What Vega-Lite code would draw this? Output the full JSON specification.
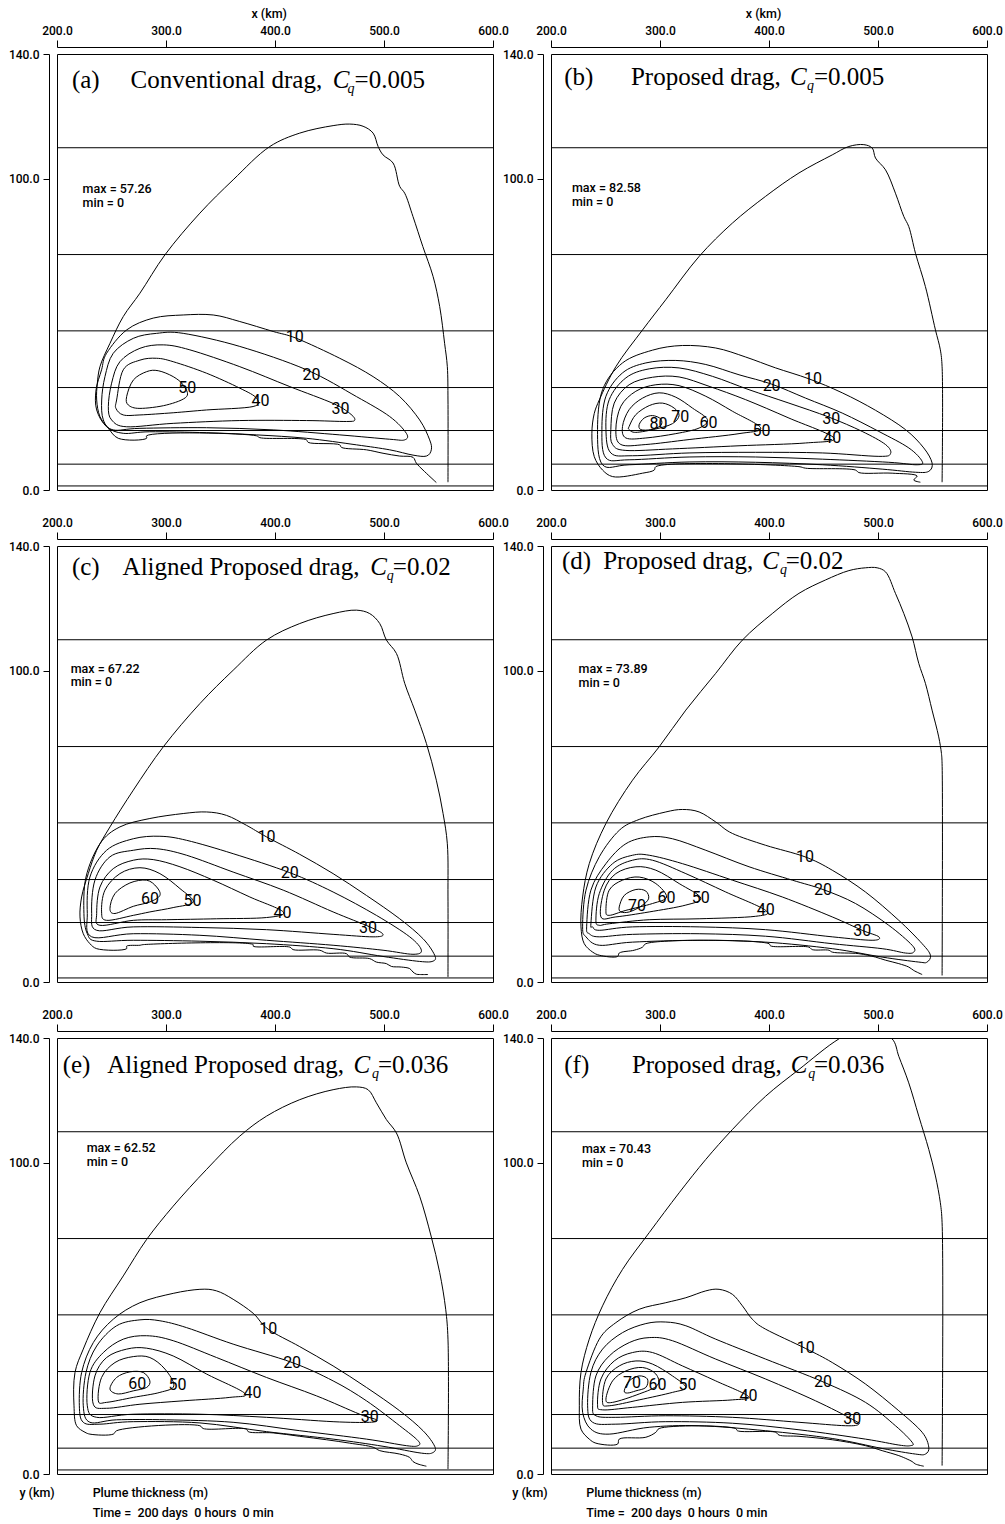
{
"$schema":"https://vega.github.io/schema/vega-lite/v6.json",
"padding":{"left":7,"top":7,"right":5,"bottom":2},
"background":"white",
"data":{"values":[
{"p":"a","k":"h","y":109.9},{"p":"a","k":"h","y":75.6},{"p":"a","k":"h","y":51.1},{"p":"a","k":"h","y":32.9},{"p":"a","k":"h","y":19.1},{"p":"a","k":"h","y":8.3},{"p":"a","k":"h","y":1.3},
{"p":"b","k":"h","y":109.9},{"p":"b","k":"h","y":75.6},{"p":"b","k":"h","y":51.1},{"p":"b","k":"h","y":32.9},{"p":"b","k":"h","y":19.1},{"p":"b","k":"h","y":8.3},{"p":"b","k":"h","y":1.3},
{"p":"c","k":"h","y":109.9},{"p":"c","k":"h","y":75.6},{"p":"c","k":"h","y":51.1},{"p":"c","k":"h","y":32.9},{"p":"c","k":"h","y":19.1},{"p":"c","k":"h","y":8.3},{"p":"c","k":"h","y":1.3},
{"p":"d","k":"h","y":109.9},{"p":"d","k":"h","y":75.6},{"p":"d","k":"h","y":51.1},{"p":"d","k":"h","y":32.9},{"p":"d","k":"h","y":19.1},{"p":"d","k":"h","y":8.3},{"p":"d","k":"h","y":1.3},
{"p":"e","k":"h","y":109.9},{"p":"e","k":"h","y":75.6},{"p":"e","k":"h","y":51.1},{"p":"e","k":"h","y":32.9},{"p":"e","k":"h","y":19.1},{"p":"e","k":"h","y":8.3},{"p":"e","k":"h","y":1.3},
{"p":"f","k":"h","y":109.9},{"p":"f","k":"h","y":75.6},{"p":"f","k":"h","y":51.1},{"p":"f","k":"h","y":32.9},{"p":"f","k":"h","y":19.1},{"p":"f","k":"h","y":8.3},{"p":"f","k":"h","y":1.3},

{"p":"a","k":"t","t":"(a)","x":213.7,"y":129.0},{"p":"a","k":"t","t":"Conventional drag,","x":267.5,"y":129.0},{"p":"a","k":"ti","t":"C","x":452.9,"y":129.0},{"p":"a","k":"tq","t":"q","x":466.6,"y":129.0},{"p":"a","k":"t","t":"=0.005","x":473.0,"y":129.0},
{"p":"b","k":"t","t":"(b)","x":212.2,"y":129.9},{"p":"b","k":"t","t":"Proposed drag,","x":273.3,"y":129.9},{"p":"b","k":"ti","t":"C","x":419.2,"y":129.9},{"p":"b","k":"tq","t":"q","x":434.8,"y":129.9},{"p":"b","k":"t","t":"=0.005","x":441.2,"y":129.9},
{"p":"c","k":"t","t":"(c)","x":213.7,"y":130.7},{"p":"c","k":"t","t":"Aligned Proposed drag,","x":260.2,"y":130.7},{"p":"c","k":"ti","t":"C","x":487.4,"y":130.7},{"p":"c","k":"tq","t":"q","x":502.6,"y":130.7},{"p":"c","k":"t","t":"=0.02","x":508.1,"y":130.7},
{"p":"d","k":"t","t":"(d)","x":210.1,"y":132.5},{"p":"d","k":"t","t":"Proposed drag,","x":247.9,"y":132.5},{"p":"d","k":"ti","t":"C","x":393.9,"y":132.5},{"p":"d","k":"tq","t":"q","x":410.1,"y":132.5},{"p":"d","k":"t","t":"=0.02","x":415.3,"y":132.5},
{"p":"e","k":"t","t":"(e)","x":205.2,"y":128.8},{"p":"e","k":"t","t":"Aligned Proposed drag,","x":246.1,"y":128.8},{"p":"e","k":"ti","t":"C","x":472.1,"y":128.8},{"p":"e","k":"tq","t":"q","x":488.9,"y":128.8},{"p":"e","k":"t","t":"=0.036","x":494.4,"y":128.8},
{"p":"f","k":"t","t":"(f)","x":212.2,"y":128.8},{"p":"f","k":"t","t":"Proposed drag,","x":274.2,"y":128.8},{"p":"f","k":"ti","t":"C","x":419.9,"y":128.8},{"p":"f","k":"tq","t":"q","x":436.0,"y":128.8},{"p":"f","k":"t","t":"=0.036","x":441.2,"y":128.8},

{"p":"a","k":"s","t":"max = 57.26","x":223.5,"y":95.4},{"p":"a","k":"s","t":"min = 0","x":223.5,"y":90.9},
{"p":"b","k":"s","t":"max = 82.58","x":219.2,"y":95.6},{"p":"b","k":"s","t":"min = 0","x":219.2,"y":91.1},
{"p":"c","k":"s","t":"max = 67.22","x":212.5,"y":99.1},{"p":"c","k":"s","t":"min = 0","x":212.5,"y":95.0},
{"p":"d","k":"s","t":"max = 73.89","x":225.3,"y":99.1},{"p":"d","k":"s","t":"min = 0","x":225.3,"y":94.6},
{"p":"e","k":"s","t":"max = 62.52","x":227.2,"y":103.5},{"p":"e","k":"s","t":"min = 0","x":227.2,"y":98.8},
{"p":"f","k":"s","t":"max = 70.43","x":228.4,"y":103.1},{"p":"f","k":"s","t":"min = 0","x":228.4,"y":98.7},

{"p":"a","k":"x","t":"x (km)","x":378.4,"y":152.7},{"p":"b","k":"x","t":"x (km)","x":378.7,"y":152.7},
{"p":"e","k":"x","t":"y (km)","x":165.5,"y":-6.1},{"p":"e","k":"x","t":"Plume thickness (m)","x":232.7,"y":-6.1},{"p":"e","k":"x","t":"Time =\u00a0\u00a0200 days\u00a0\u00a00 hours\u00a0\u00a00 min","x":232.7,"y":-12.5},
{"p":"f","k":"x","t":"y (km)","x":164.5,"y":-6.1},{"p":"f","k":"x","t":"Plume thickness (m)","x":232.3,"y":-6.1},{"p":"f","k":"x","t":"Time =\u00a0\u00a0200 days\u00a0\u00a00 hours\u00a0\u00a00 min","x":232.3,"y":-12.5},

{"p":"a","k":"l","t":"10","x":418.2,"y":49.1},{"p":"a","k":"l","t":"20","x":433.4,"y":37.0},{"p":"a","k":"l","t":"50","x":319.5,"y":32.7},{"p":"a","k":"l","t":"40","x":386.7,"y":28.7},{"p":"a","k":"l","t":"30","x":460.0,"y":25.9},
{"p":"b","k":"l","t":"10","x":440.3,"y":35.6},{"p":"b","k":"l","t":"20","x":402.4,"y":33.4},{"p":"b","k":"l","t":"30","x":457.1,"y":22.7},{"p":"b","k":"l","t":"40","x":458.0,"y":16.6},{"p":"b","k":"l","t":"50","x":393.0,"y":19.1},{"p":"b","k":"l","t":"60","x":344.4,"y":21.6},{"p":"b","k":"l","t":"70","x":318.5,"y":23.4},{"p":"b","k":"l","t":"80","x":298.6,"y":21.2},
{"p":"c","k":"l","t":"10","x":392.2,"y":46.4},{"p":"c","k":"l","t":"20","x":413.6,"y":35.1},{"p":"c","k":"l","t":"60","x":285.2,"y":26.5},{"p":"c","k":"l","t":"50","x":324.4,"y":25.9},{"p":"c","k":"l","t":"40","x":406.9,"y":22.2},{"p":"c","k":"l","t":"30","x":485.4,"y":17.5},
{"p":"d","k":"l","t":"10","x":433.0,"y":40.2},{"p":"d","k":"l","t":"20","x":449.5,"y":29.7},{"p":"d","k":"l","t":"70","x":278.8,"y":24.3},{"p":"d","k":"l","t":"60","x":306.0,"y":27.1},{"p":"d","k":"l","t":"50","x":337.4,"y":27.0},{"p":"d","k":"l","t":"40","x":396.9,"y":23.0},{"p":"d","k":"l","t":"30","x":485.5,"y":16.4},
{"p":"e","k":"l","t":"10","x":393.7,"y":46.5},{"p":"e","k":"l","t":"20","x":415.7,"y":35.8},{"p":"e","k":"l","t":"60","x":273.6,"y":28.9},{"p":"e","k":"l","t":"50","x":310.6,"y":28.5},{"p":"e","k":"l","t":"40","x":379.4,"y":25.9},{"p":"e","k":"l","t":"30","x":486.9,"y":18.2},
{"p":"f","k":"l","t":"10","x":433.6,"y":40.3},{"p":"f","k":"l","t":"20","x":449.5,"y":29.6},{"p":"f","k":"l","t":"70","x":274.2,"y":29.2},{"p":"f","k":"l","t":"60","x":297.7,"y":28.5},{"p":"f","k":"l","t":"50","x":325.2,"y":28.6},{"p":"f","k":"l","t":"40","x":381.1,"y":24.9},{"p":"f","k":"l","t":"30","x":476.3,"y":17.6},

{"p":"a","c":"0","x":548.0,"y":2.4},{"p":"a","c":"0","x":535.8,"y":6.4},{"p":"a","c":"0","x":529.7,"y":8.6},{"p":"a","c":"0","x":526.6,"y":10.5},{"p":"a","c":"0","x":514.4,"y":10.9},{"p":"a","c":"0","x":499.1,"y":11.8},{"p":"a","c":"0","x":483.9,"y":12.9},{"p":"a","c":"0","x":460.9,"y":13.7},{"p":"a","c":"0","x":459.4,"y":14.5},{"p":"a","c":"0","x":430.4,"y":15.3},{"p":"a","c":"0","x":428.9,"y":16.1},{"p":"a","c":"0","x":386.1,"y":16.8},{"p":"a","c":"0","x":383.0,"y":17.4},{"p":"a","c":"0","x":282.2,"y":17.4},{"p":"a","c":"0","x":282.2,"y":16.6},{"p":"a","c":"0","x":256.2,"y":16.6},{"p":"a","c":"0","x":247.1,"y":19.8},{"p":"a","c":"0","x":239.4,"y":23.6},{"p":"a","c":"0","x":236.4,"y":28.9},{"p":"a","c":"0","x":237.0,"y":34.3},{"p":"a","c":"0","x":239.4,"y":39.6},{"p":"a","c":"0","x":248.6,"y":47.1},{"p":"a","c":"0","x":260.8,"y":55.7},{"p":"a","c":"0","x":276.1,"y":63.2},{"p":"a","c":"0","x":299.0,"y":75.5},{"p":"a","c":"0","x":331.1,"y":88.9},{"p":"a","c":"0","x":361.6,"y":99.6},{"p":"a","c":"0","x":395.3,"y":110.3},{"p":"a","c":"0","x":422.7,"y":114.6},{"p":"a","c":"0","x":453.3,"y":117.0},{"p":"a","c":"0","x":468.6,"y":117.5},{"p":"a","c":"0","x":480.8,"y":116.8},{"p":"a","c":"0","x":490.0,"y":114.6},{"p":"a","c":"0","x":494.6,"y":110.3},{"p":"a","c":"0","x":499.1,"y":107.6},{"p":"a","c":"0","x":508.3,"y":105.0},{"p":"a","c":"0","x":514.4,"y":97.5},{"p":"a","c":"0","x":519.0,"y":95.3},{"p":"a","c":"0","x":526.6,"y":87.8},{"p":"a","c":"0","x":535.6,"y":78.2},{"p":"a","c":"0","x":545.0,"y":68.6},{"p":"a","c":"0","x":551.1,"y":58.9},{"p":"a","c":"0","x":555.6,"y":47.1},{"p":"a","c":"0","x":558.1,"y":39.6},{"p":"a","c":"0","x":558.7,"y":28.9},{"p":"a","c":"0","x":558.7,"y":2.5},
{"p":"a","c":"10","x":245.5,"y":43.9},{"p":"a","c":"10","x":263.9,"y":51.4},{"p":"a","c":"10","x":288.3,"y":55.2},{"p":"a","c":"10","x":315.8,"y":56.2},{"p":"a","c":"10","x":343.3,"y":56.2},{"p":"a","c":"10","x":367.7,"y":54.1},{"p":"a","c":"10","x":398.3,"y":50.9},{"p":"a","c":"10","x":419.7,"y":48.7},{"p":"a","c":"10","x":459.4,"y":42.3},{"p":"a","c":"10","x":490.0,"y":36.4},{"p":"a","c":"10","x":514.4,"y":30.0},{"p":"a","c":"10","x":532.7,"y":22.5},{"p":"a","c":"10","x":541.9,"y":16.1},{"p":"a","c":"10","x":543.4,"y":12.9},{"p":"a","c":"10","x":538.9,"y":10.9},{"p":"a","c":"10","x":526.6,"y":11.2},{"p":"a","c":"10","x":505.2,"y":12.9},{"p":"a","c":"10","x":474.7,"y":14.5},{"p":"a","c":"10","x":428.9,"y":16.6},{"p":"a","c":"10","x":383.0,"y":17.7},{"p":"a","c":"10","x":337.2,"y":18.4},{"p":"a","c":"10","x":285.2,"y":18.7},{"p":"a","c":"10","x":260.8,"y":18.2},{"p":"a","c":"10","x":245.5,"y":20.3},{"p":"a","c":"10","x":236.4,"y":25.7},{"p":"a","c":"10","x":235.8,"y":32.1},{"p":"a","c":"10","x":240.9,"y":38.6},
{"p":"a","c":"20","x":251.6,"y":43.9},{"p":"a","c":"20","x":270.0,"y":48.7},{"p":"a","c":"20","x":291.4,"y":50.3},{"p":"a","c":"20","x":315.8,"y":50.3},{"p":"a","c":"20","x":367.7,"y":46.1},{"p":"a","c":"20","x":428.9,"y":38.6},{"p":"a","c":"20","x":474.7,"y":30.0},{"p":"a","c":"20","x":505.2,"y":23.6},{"p":"a","c":"20","x":520.5,"y":18.2},{"p":"a","c":"20","x":519.0,"y":16.1},{"p":"a","c":"20","x":505.2,"y":16.3},{"p":"a","c":"20","x":459.4,"y":17.7},{"p":"a","c":"20","x":398.3,"y":19.3},{"p":"a","c":"20","x":337.2,"y":20.0},{"p":"a","c":"20","x":276.1,"y":19.8},{"p":"a","c":"20","x":251.6,"y":19.3},{"p":"a","c":"20","x":242.5,"y":22.5},{"p":"a","c":"20","x":241.0,"y":28.9},{"p":"a","c":"20","x":244.0,"y":36.4},
{"p":"a","c":"30","x":257.7,"y":41.2},{"p":"a","c":"30","x":276.1,"y":45.5},{"p":"a","c":"30","x":297.5,"y":46.6},{"p":"a","c":"30","x":321.9,"y":45.0},{"p":"a","c":"30","x":367.7,"y":39.6},{"p":"a","c":"30","x":413.6,"y":33.2},{"p":"a","c":"30","x":453.3,"y":27.8},{"p":"a","c":"30","x":468.6,"y":24.6},{"p":"a","c":"30","x":473.2,"y":22.5},{"p":"a","c":"30","x":465.5,"y":22.0},{"p":"a","c":"30","x":428.9,"y":22.3},{"p":"a","c":"30","x":367.7,"y":22.3},{"p":"a","c":"30","x":306.6,"y":21.4},{"p":"a","c":"30","x":263.9,"y":20.3},{"p":"a","c":"30","x":250.1,"y":22.5},{"p":"a","c":"30","x":247.1,"y":26.8},{"p":"a","c":"30","x":250.1,"y":34.3},
{"p":"a","c":"40","x":254.7,"y":28.9},{"p":"a","c":"40","x":260.8,"y":38.6},{"p":"a","c":"40","x":276.1,"y":41.7},{"p":"a","c":"40","x":291.4,"y":42.3},{"p":"a","c":"40","x":306.6,"y":41.2},{"p":"a","c":"40","x":337.2,"y":37.5},{"p":"a","c":"40","x":367.7,"y":32.7},{"p":"a","c":"40","x":383.0,"y":29.5},{"p":"a","c":"40","x":379.9,"y":26.8},{"p":"a","c":"40","x":337.2,"y":25.7},{"p":"a","c":"40","x":306.6,"y":24.8},{"p":"a","c":"40","x":276.1,"y":24.1},{"p":"a","c":"40","x":260.8,"y":24.1},{"p":"a","c":"40","x":254.1,"y":26.2},
{"p":"a","c":"50","x":263.9,"y":30.0},{"p":"a","c":"50","x":270.0,"y":35.3},{"p":"a","c":"50","x":282.2,"y":38.0},{"p":"a","c":"50","x":292.9,"y":38.3},{"p":"a","c":"50","x":306.6,"y":36.4},{"p":"a","c":"50","x":315.8,"y":33.7},{"p":"a","c":"50","x":318.9,"y":30.0},{"p":"a","c":"50","x":300.5,"y":27.3},{"p":"a","c":"50","x":276.1,"y":26.2},{"p":"a","c":"50","x":265.4,"y":27.3},

{"p":"b","c":"0","x":538.9,"y":2.5},{"p":"b","c":"0","x":532.8,"y":3.2},{"p":"b","c":"0","x":535.9,"y":4.5},{"p":"b","c":"0","x":513.0,"y":5.4},{"p":"b","c":"0","x":482.4,"y":5.6},{"p":"b","c":"0","x":479.4,"y":6.4},{"p":"b","c":"0","x":433.6,"y":7.0},{"p":"b","c":"0","x":427.5,"y":7.5},{"p":"b","c":"0","x":296.2,"y":7.5},{"p":"b","c":"0","x":294.7,"y":6.4},{"p":"b","c":"0","x":284.0,"y":5.4},{"p":"b","c":"0","x":256.5,"y":4.3},{"p":"b","c":"0","x":247.3,"y":6.4},{"p":"b","c":"0","x":239.7,"y":10.7},{"p":"b","c":"0","x":237.5,"y":18.2},{"p":"b","c":"0","x":239.7,"y":24.6},{"p":"b","c":"0","x":244.3,"y":28.9},{"p":"b","c":"0","x":259.5,"y":39.6},{"p":"b","c":"0","x":284.0,"y":51.4},{"p":"b","c":"0","x":305.3,"y":61.1},{"p":"b","c":"0","x":335.9,"y":75.0},{"p":"b","c":"0","x":366.4,"y":85.7},{"p":"b","c":"0","x":396.9,"y":94.3},{"p":"b","c":"0","x":427.5,"y":101.8},{"p":"b","c":"0","x":458.0,"y":107.6},{"p":"b","c":"0","x":473.3,"y":110.3},{"p":"b","c":"0","x":487.0,"y":110.9},{"p":"b","c":"0","x":494.7,"y":109.8},{"p":"b","c":"0","x":497.7,"y":106.6},{"p":"b","c":"0","x":506.9,"y":102.8},{"p":"b","c":"0","x":516.0,"y":95.3},{"p":"b","c":"0","x":523.7,"y":87.8},{"p":"b","c":"0","x":528.2,"y":84.6},{"p":"b","c":"0","x":534.4,"y":76.0},{"p":"b","c":"0","x":543.5,"y":65.3},{"p":"b","c":"0","x":552.7,"y":51.4},{"p":"b","c":"0","x":557.2,"y":45.0},{"p":"b","c":"0","x":558.8,"y":39.6},{"p":"b","c":"0","x":558.8,"y":2.5},
{"p":"b","c":"10","x":242.7,"y":19.4},{"p":"b","c":"10","x":247.3,"y":32.2},{"p":"b","c":"10","x":265.6,"y":40.8},{"p":"b","c":"10","x":293.1,"y":44.9},{"p":"b","c":"10","x":320.6,"y":46.4},{"p":"b","c":"10","x":351.1,"y":45.6},{"p":"b","c":"10","x":378.6,"y":42.7},{"p":"b","c":"10","x":406.1,"y":39.2},{"p":"b","c":"10","x":436.6,"y":35.7},{"p":"b","c":"10","x":467.2,"y":31.2},{"p":"b","c":"10","x":497.7,"y":25.6},{"p":"b","c":"10","x":525.2,"y":19.4},{"p":"b","c":"10","x":542.0,"y":13.5},{"p":"b","c":"10","x":549.6,"y":8.7},{"p":"b","c":"10","x":546.6,"y":6.0},{"p":"b","c":"10","x":534.4,"y":5.7},{"p":"b","c":"10","x":503.8,"y":6.7},{"p":"b","c":"10","x":448.9,"y":8.1},{"p":"b","c":"10","x":387.8,"y":8.9},{"p":"b","c":"10","x":326.7,"y":9.0},{"p":"b","c":"10","x":271.7,"y":8.1},{"p":"b","c":"10","x":247.3,"y":8.1},
{"p":"b","c":"20","x":246.7,"y":19.4},{"p":"b","c":"20","x":250.4,"y":30.1},{"p":"b","c":"20","x":265.6,"y":37.6},{"p":"b","c":"20","x":287.0,"y":40.8},{"p":"b","c":"20","x":314.5,"y":41.6},{"p":"b","c":"20","x":342.0,"y":40.3},{"p":"b","c":"20","x":372.5,"y":37.0},{"p":"b","c":"20","x":402.4,"y":34.0},{"p":"b","c":"20","x":433.6,"y":29.5},{"p":"b","c":"20","x":467.2,"y":24.7},{"p":"b","c":"20","x":500.8,"y":18.8},{"p":"b","c":"20","x":528.3,"y":13.5},{"p":"b","c":"20","x":540.5,"y":9.2},{"p":"b","c":"20","x":535.9,"y":8.1},{"p":"b","c":"20","x":509.9,"y":8.9},{"p":"b","c":"20","x":448.9,"y":9.9},{"p":"b","c":"20","x":387.8,"y":10.6},{"p":"b","c":"20","x":326.7,"y":10.6},{"p":"b","c":"20","x":271.7,"y":9.7},{"p":"b","c":"20","x":250.4,"y":10.3},
{"p":"b","c":"30","x":250.4,"y":19.4},{"p":"b","c":"30","x":253.4,"y":29.0},{"p":"b","c":"30","x":268.7,"y":36.0},{"p":"b","c":"30","x":290.1,"y":38.9},{"p":"b","c":"30","x":317.5,"y":39.2},{"p":"b","c":"30","x":348.1,"y":36.5},{"p":"b","c":"30","x":381.7,"y":32.2},{"p":"b","c":"30","x":418.3,"y":27.9},{"p":"b","c":"30","x":455.0,"y":23.4},{"p":"b","c":"30","x":485.5,"y":18.8},{"p":"b","c":"30","x":506.9,"y":14.6},{"p":"b","c":"30","x":511.5,"y":11.7},{"p":"b","c":"30","x":500.8,"y":10.8},{"p":"b","c":"30","x":448.9,"y":11.9},{"p":"b","c":"30","x":387.8,"y":12.1},{"p":"b","c":"30","x":326.7,"y":11.9},{"p":"b","c":"30","x":274.8,"y":11.0},{"p":"b","c":"30","x":254.9,"y":11.9},
{"p":"b","c":"40","x":254.9,"y":19.4},{"p":"b","c":"40","x":258.0,"y":27.9},{"p":"b","c":"40","x":271.7,"y":33.8},{"p":"b","c":"40","x":293.1,"y":36.2},{"p":"b","c":"40","x":317.5,"y":36.3},{"p":"b","c":"40","x":345.0,"y":33.3},{"p":"b","c":"40","x":378.6,"y":29.0},{"p":"b","c":"40","x":418.3,"y":23.1},{"p":"b","c":"40","x":459.6,"y":16.7},{"p":"b","c":"40","x":433.6,"y":15.1},{"p":"b","c":"40","x":372.5,"y":14.2},{"p":"b","c":"40","x":311.4,"y":13.2},{"p":"b","c":"40","x":268.7,"y":12.7},{"p":"b","c":"40","x":256.5,"y":14.6},
{"p":"b","c":"50","x":259.5,"y":19.4},{"p":"b","c":"50","x":264.1,"y":26.9},{"p":"b","c":"50","x":277.8,"y":31.7},{"p":"b","c":"50","x":296.2,"y":33.8},{"p":"b","c":"50","x":317.5,"y":33.5},{"p":"b","c":"50","x":342.0,"y":30.1},{"p":"b","c":"50","x":366.4,"y":25.3},{"p":"b","c":"50","x":392.4,"y":19.9},{"p":"b","c":"50","x":372.5,"y":18.1},{"p":"b","c":"50","x":326.7,"y":16.2},{"p":"b","c":"50","x":287.0,"y":14.6},{"p":"b","c":"50","x":264.1,"y":14.6},
{"p":"b","c":"60","x":265.6,"y":20.4},{"p":"b","c":"60","x":271.7,"y":25.8},{"p":"b","c":"60","x":284.0,"y":29.5},{"p":"b","c":"60","x":299.2,"y":31.2},{"p":"b","c":"60","x":314.5,"y":29.8},{"p":"b","c":"60","x":329.8,"y":26.3},{"p":"b","c":"60","x":343.5,"y":22.6},{"p":"b","c":"60","x":335.9,"y":19.9},{"p":"b","c":"60","x":314.5,"y":18.1},{"p":"b","c":"60","x":287.0,"y":16.7},{"p":"b","c":"60","x":268.7,"y":16.7},
{"p":"b","c":"70","x":271.7,"y":20.4},{"p":"b","c":"70","x":277.8,"y":24.2},{"p":"b","c":"70","x":290.1,"y":27.1},{"p":"b","c":"70","x":302.3,"y":27.9},{"p":"b","c":"70","x":313.0,"y":26.3},{"p":"b","c":"70","x":317.5,"y":23.9},{"p":"b","c":"70","x":311.4,"y":21.3},{"p":"b","c":"70","x":296.2,"y":19.6},{"p":"b","c":"70","x":277.8,"y":18.5},{"p":"b","c":"70","x":271.7,"y":19.4},
{"p":"b","c":"80","x":280.9,"y":21.0},{"p":"b","c":"80","x":285.5,"y":23.1},{"p":"b","c":"80","x":293.1,"y":23.9},{"p":"b","c":"80","x":300.7,"y":22.8},{"p":"b","c":"80","x":300.7,"y":20.7},{"p":"b","c":"80","x":291.6,"y":19.4},{"p":"b","c":"80","x":282.4,"y":19.4},

{"p":"c","c":"0","x":540.4,"y":2.4},{"p":"c","c":"0","x":532.7,"y":2.4},{"p":"c","c":"0","x":529.7,"y":2.5},{"p":"c","c":"0","x":526.6,"y":3.2},{"p":"c","c":"0","x":523.6,"y":4.3},{"p":"c","c":"0","x":516.0,"y":4.8},{"p":"c","c":"0","x":506.8,"y":5.0},{"p":"c","c":"0","x":502.2,"y":5.9},{"p":"c","c":"0","x":493.0,"y":6.4},{"p":"c","c":"0","x":486.9,"y":7.5},{"p":"c","c":"0","x":468.6,"y":8.0},{"p":"c","c":"0","x":465.5,"y":9.1},{"p":"c","c":"0","x":447.2,"y":9.3},{"p":"c","c":"0","x":441.1,"y":10.2},{"p":"c","c":"0","x":416.6,"y":10.4},{"p":"c","c":"0","x":413.6,"y":11.2},{"p":"c","c":"0","x":380.0,"y":11.5},{"p":"c","c":"0","x":380.0,"y":12.0},{"p":"c","c":"0","x":279.1,"y":12.0},{"p":"c","c":"0","x":276.1,"y":11.8},{"p":"c","c":"0","x":263.9,"y":11.5},{"p":"c","c":"0","x":263.9,"y":10.7},{"p":"c","c":"0","x":236.4,"y":10.7},{"p":"c","c":"0","x":230.2,"y":12.3},{"p":"c","c":"0","x":224.1,"y":15.5},{"p":"c","c":"0","x":221.1,"y":20.9},{"p":"c","c":"0","x":222.6,"y":27.3},{"p":"c","c":"0","x":228.7,"y":34.8},{"p":"c","c":"0","x":236.4,"y":42.3},{"p":"c","c":"0","x":248.6,"y":49.8},{"p":"c","c":"0","x":270.0,"y":61.6},{"p":"c","c":"0","x":297.5,"y":75.5},{"p":"c","c":"0","x":331.1,"y":89.4},{"p":"c","c":"0","x":361.6,"y":100.1},{"p":"c","c":"0","x":392.2,"y":109.8},{"p":"c","c":"0","x":422.7,"y":115.1},{"p":"c","c":"0","x":453.3,"y":118.3},{"p":"c","c":"0","x":474.7,"y":119.4},{"p":"c","c":"0","x":486.9,"y":118.3},{"p":"c","c":"0","x":496.1,"y":115.1},{"p":"c","c":"0","x":502.2,"y":109.8},{"p":"c","c":"0","x":511.4,"y":105.5},{"p":"c","c":"0","x":519.0,"y":95.9},{"p":"c","c":"0","x":528.2,"y":87.3},{"p":"c","c":"0","x":538.9,"y":76.6},{"p":"c","c":"0","x":548.0,"y":64.8},{"p":"c","c":"0","x":554.2,"y":54.1},{"p":"c","c":"0","x":558.1,"y":44.4},{"p":"c","c":"0","x":558.7,"y":27.3},{"p":"c","c":"0","x":558.7,"y":1.6},
{"p":"c","c":"10","x":224.7,"y":22.0},{"p":"c","c":"10","x":226.6,"y":33.7},{"p":"c","c":"10","x":239.4,"y":44.4},{"p":"c","c":"10","x":257.7,"y":49.8},{"p":"c","c":"10","x":285.2,"y":52.5},{"p":"c","c":"10","x":315.8,"y":54.1},{"p":"c","c":"10","x":337.2,"y":54.6},{"p":"c","c":"10","x":355.5,"y":53.5},{"p":"c","c":"10","x":373.9,"y":50.3},{"p":"c","c":"10","x":392.2,"y":46.6},{"p":"c","c":"10","x":422.7,"y":41.0},{"p":"c","c":"10","x":453.3,"y":34.8},{"p":"c","c":"10","x":483.9,"y":27.8},{"p":"c","c":"10","x":514.4,"y":20.3},{"p":"c","c":"10","x":535.8,"y":13.9},{"p":"c","c":"10","x":546.5,"y":8.6},{"p":"c","c":"10","x":545.0,"y":6.7},{"p":"c","c":"10","x":532.7,"y":6.6},{"p":"c","c":"10","x":499.1,"y":8.2},{"p":"c","c":"10","x":453.3,"y":10.7},{"p":"c","c":"10","x":392.2,"y":12.3},{"p":"c","c":"10","x":331.1,"y":13.1},{"p":"c","c":"10","x":270.0,"y":13.4},{"p":"c","c":"10","x":236.4,"y":13.1},{"p":"c","c":"10","x":227.8,"y":15.5},
{"p":"c","c":"20","x":227.8,"y":22.0},{"p":"c","c":"20","x":230.2,"y":33.7},{"p":"c","c":"20","x":245.5,"y":42.3},{"p":"c","c":"20","x":270.0,"y":46.0},{"p":"c","c":"20","x":294.4,"y":46.8},{"p":"c","c":"20","x":318.9,"y":45.5},{"p":"c","c":"20","x":361.6,"y":41.2},{"p":"c","c":"20","x":413.6,"y":35.1},{"p":"c","c":"20","x":453.3,"y":28.9},{"p":"c","c":"20","x":493.0,"y":21.4},{"p":"c","c":"20","x":523.6,"y":14.5},{"p":"c","c":"20","x":534.3,"y":10.2},{"p":"c","c":"20","x":526.6,"y":8.9},{"p":"c","c":"20","x":499.1,"y":10.2},{"p":"c","c":"20","x":453.3,"y":11.8},{"p":"c","c":"20","x":392.2,"y":13.4},{"p":"c","c":"20","x":331.1,"y":15.0},{"p":"c","c":"20","x":270.0,"y":15.5},{"p":"c","c":"20","x":231.8,"y":14.5},
{"p":"c","c":"30","x":231.8,"y":22.0},{"p":"c","c":"30","x":234.8,"y":32.7},{"p":"c","c":"30","x":248.6,"y":40.2},{"p":"c","c":"30","x":270.0,"y":42.3},{"p":"c","c":"30","x":291.4,"y":42.8},{"p":"c","c":"30","x":318.9,"y":40.7},{"p":"c","c":"30","x":361.6,"y":35.3},{"p":"c","c":"30","x":407.5,"y":29.5},{"p":"c","c":"30","x":453.3,"y":22.5},{"p":"c","c":"30","x":486.9,"y":17.7},{"p":"c","c":"30","x":499.1,"y":15.3},{"p":"c","c":"30","x":490.0,"y":14.5},{"p":"c","c":"30","x":453.3,"y":15.3},{"p":"c","c":"30","x":392.2,"y":16.8},{"p":"c","c":"30","x":331.1,"y":17.5},{"p":"c","c":"30","x":270.0,"y":17.7},{"p":"c","c":"30","x":236.4,"y":16.6},
{"p":"c","c":"40","x":236.4,"y":22.0},{"p":"c","c":"40","x":239.4,"y":30.5},{"p":"c","c":"40","x":251.6,"y":36.4},{"p":"c","c":"40","x":270.0,"y":39.1},{"p":"c","c":"40","x":288.3,"y":39.3},{"p":"c","c":"40","x":312.8,"y":37.0},{"p":"c","c":"40","x":343.3,"y":32.7},{"p":"c","c":"40","x":376.9,"y":27.3},{"p":"c","c":"40","x":407.5,"y":22.5},{"p":"c","c":"40","x":392.2,"y":20.7},{"p":"c","c":"40","x":346.4,"y":20.3},{"p":"c","c":"40","x":300.5,"y":20.0},{"p":"c","c":"40","x":270.0,"y":19.8},{"p":"c","c":"40","x":239.4,"y":18.2},
{"p":"c","c":"50","x":240.9,"y":22.5},{"p":"c","c":"50","x":244.0,"y":29.5},{"p":"c","c":"50","x":257.7,"y":34.8},{"p":"c","c":"50","x":276.1,"y":36.7},{"p":"c","c":"50","x":294.4,"y":34.8},{"p":"c","c":"50","x":312.8,"y":30.0},{"p":"c","c":"50","x":325.0,"y":25.7},{"p":"c","c":"50","x":306.6,"y":23.9},{"p":"c","c":"50","x":285.2,"y":22.5},{"p":"c","c":"50","x":270.0,"y":21.4},{"p":"c","c":"50","x":245.5,"y":19.8},
{"p":"c","c":"60","x":248.6,"y":23.6},{"p":"c","c":"60","x":253.2,"y":28.4},{"p":"c","c":"60","x":266.9,"y":31.8},{"p":"c","c":"60","x":282.2,"y":32.7},{"p":"c","c":"60","x":291.4,"y":30.5},{"p":"c","c":"60","x":294.4,"y":27.8},{"p":"c","c":"60","x":285.2,"y":25.7},{"p":"c","c":"60","x":270.0,"y":24.3},{"p":"c","c":"60","x":253.2,"y":22.0},

{"p":"d","c":"0","x":540.5,"y":2.4},{"p":"d","c":"0","x":532.8,"y":3.7},{"p":"d","c":"0","x":528.2,"y":4.8},{"p":"d","c":"0","x":519.1,"y":5.9},{"p":"d","c":"0","x":506.9,"y":7.0},{"p":"d","c":"0","x":497.7,"y":8.0},{"p":"d","c":"0","x":482.4,"y":9.1},{"p":"d","c":"0","x":458.0,"y":9.6},{"p":"d","c":"0","x":455.0,"y":10.2},{"p":"d","c":"0","x":439.7,"y":10.4},{"p":"d","c":"0","x":436.6,"y":11.2},{"p":"d","c":"0","x":401.5,"y":11.6},{"p":"d","c":"0","x":400.0,"y":12.3},{"p":"d","c":"0","x":287.0,"y":12.3},{"p":"d","c":"0","x":284.0,"y":11.2},{"p":"d","c":"0","x":276.3,"y":10.2},{"p":"d","c":"0","x":262.6,"y":9.3},{"p":"d","c":"0","x":261.1,"y":8.2},{"p":"d","c":"0","x":244.3,"y":8.6},{"p":"d","c":"0","x":238.2,"y":9.6},{"p":"d","c":"0","x":230.5,"y":12.3},{"p":"d","c":"0","x":227.5,"y":17.7},{"p":"d","c":"0","x":229.0,"y":27.3},{"p":"d","c":"0","x":235.1,"y":38.0},{"p":"d","c":"0","x":250.4,"y":50.9},{"p":"d","c":"0","x":274.8,"y":64.8},{"p":"d","c":"0","x":299.2,"y":75.5},{"p":"d","c":"0","x":323.7,"y":87.3},{"p":"d","c":"0","x":351.1,"y":99.1},{"p":"d","c":"0","x":375.6,"y":109.8},{"p":"d","c":"0","x":403.0,"y":118.3},{"p":"d","c":"0","x":427.5,"y":124.8},{"p":"d","c":"0","x":451.9,"y":129.1},{"p":"d","c":"0","x":473.3,"y":132.1},{"p":"d","c":"0","x":488.5,"y":133.0},{"p":"d","c":"0","x":499.2,"y":133.0},{"p":"d","c":"0","x":506.9,"y":131.7},{"p":"d","c":"0","x":516.0,"y":124.8},{"p":"d","c":"0","x":523.7,"y":118.3},{"p":"d","c":"0","x":531.3,"y":110.8},{"p":"d","c":"0","x":537.4,"y":102.3},{"p":"d","c":"0","x":543.5,"y":95.9},{"p":"d","c":"0","x":549.6,"y":87.3},{"p":"d","c":"0","x":555.7,"y":78.7},{"p":"d","c":"0","x":558.2,"y":73.4},{"p":"d","c":"0","x":558.8,"y":70.1},{"p":"d","c":"0","x":558.8,"y":2.1},
{"p":"d","c":"10","x":229.0,"y":17.7},{"p":"d","c":"10","x":232.1,"y":29.5},{"p":"d","c":"10","x":244.3,"y":40.2},{"p":"d","c":"10","x":262.6,"y":48.7},{"p":"d","c":"10","x":280.9,"y":52.2},{"p":"d","c":"10","x":305.3,"y":54.6},{"p":"d","c":"10","x":320.6,"y":55.4},{"p":"d","c":"10","x":335.9,"y":54.6},{"p":"d","c":"10","x":351.1,"y":51.4},{"p":"d","c":"10","x":366.4,"y":47.7},{"p":"d","c":"10","x":396.9,"y":43.9},{"p":"d","c":"10","x":433.0,"y":40.2},{"p":"d","c":"10","x":458.0,"y":35.9},{"p":"d","c":"10","x":488.5,"y":28.9},{"p":"d","c":"10","x":519.1,"y":19.8},{"p":"d","c":"10","x":540.5,"y":12.3},{"p":"d","c":"10","x":548.1,"y":8.6},{"p":"d","c":"10","x":545.0,"y":6.4},{"p":"d","c":"10","x":537.4,"y":6.4},{"p":"d","c":"10","x":503.8,"y":8.0},{"p":"d","c":"10","x":458.0,"y":10.7},{"p":"d","c":"10","x":396.9,"y":12.8},{"p":"d","c":"10","x":335.9,"y":13.4},{"p":"d","c":"10","x":274.8,"y":12.8},{"p":"d","c":"10","x":244.3,"y":11.8},{"p":"d","c":"10","x":232.1,"y":14.5},
{"p":"d","c":"20","x":232.7,"y":17.7},{"p":"d","c":"20","x":236.6,"y":29.5},{"p":"d","c":"20","x":250.4,"y":38.0},{"p":"d","c":"20","x":268.7,"y":44.4},{"p":"d","c":"20","x":290.1,"y":46.6},{"p":"d","c":"20","x":311.4,"y":46.0},{"p":"d","c":"20","x":342.0,"y":42.3},{"p":"d","c":"20","x":381.7,"y":37.0},{"p":"d","c":"20","x":421.4,"y":32.7},{"p":"d","c":"20","x":449.5,"y":29.7},{"p":"d","c":"20","x":479.4,"y":25.2},{"p":"d","c":"20","x":509.9,"y":18.2},{"p":"d","c":"20","x":531.3,"y":11.8},{"p":"d","c":"20","x":532.8,"y":9.6},{"p":"d","c":"20","x":525.2,"y":9.3},{"p":"d","c":"20","x":503.8,"y":10.7},{"p":"d","c":"20","x":458.0,"y":12.3},{"p":"d","c":"20","x":396.9,"y":14.7},{"p":"d","c":"20","x":335.9,"y":15.5},{"p":"d","c":"20","x":274.8,"y":15.3},{"p":"d","c":"20","x":244.3,"y":14.5},{"p":"d","c":"20","x":235.1,"y":15.5},
{"p":"d","c":"30","x":236.6,"y":18.7},{"p":"d","c":"30","x":241.2,"y":30.5},{"p":"d","c":"30","x":256.5,"y":38.0},{"p":"d","c":"30","x":274.8,"y":40.7},{"p":"d","c":"30","x":290.1,"y":40.7},{"p":"d","c":"30","x":320.6,"y":38.0},{"p":"d","c":"30","x":366.4,"y":32.7},{"p":"d","c":"30","x":412.2,"y":27.3},{"p":"d","c":"30","x":458.0,"y":20.9},{"p":"d","c":"30","x":485.5,"y":16.6},{"p":"d","c":"30","x":500.8,"y":14.5},{"p":"d","c":"30","x":494.6,"y":13.4},{"p":"d","c":"30","x":458.0,"y":14.5},{"p":"d","c":"30","x":396.9,"y":16.8},{"p":"d","c":"30","x":335.9,"y":17.7},{"p":"d","c":"30","x":274.8,"y":17.7},{"p":"d","c":"30","x":244.3,"y":16.6},{"p":"d","c":"30","x":238.2,"y":17.7},
{"p":"d","c":"40","x":241.2,"y":19.8},{"p":"d","c":"40","x":244.3,"y":28.4},{"p":"d","c":"40","x":256.5,"y":35.9},{"p":"d","c":"40","x":274.8,"y":39.1},{"p":"d","c":"40","x":293.1,"y":39.1},{"p":"d","c":"40","x":323.7,"y":34.8},{"p":"d","c":"40","x":360.3,"y":28.9},{"p":"d","c":"40","x":396.9,"y":23.0},{"p":"d","c":"40","x":387.8,"y":21.1},{"p":"d","c":"40","x":335.9,"y":20.3},{"p":"d","c":"40","x":290.1,"y":20.0},{"p":"d","c":"40","x":253.4,"y":18.7},{"p":"d","c":"40","x":244.3,"y":18.2},
{"p":"d","c":"50","x":245.8,"y":20.9},{"p":"d","c":"50","x":248.9,"y":29.5},{"p":"d","c":"50","x":259.5,"y":34.8},{"p":"d","c":"50","x":277.9,"y":37.0},{"p":"d","c":"50","x":296.2,"y":35.9},{"p":"d","c":"50","x":317.6,"y":31.6},{"p":"d","c":"50","x":337.4,"y":27.0},{"p":"d","c":"50","x":323.7,"y":24.7},{"p":"d","c":"50","x":290.1,"y":22.5},{"p":"d","c":"50","x":259.5,"y":20.9},
{"p":"d","c":"60","x":250.4,"y":23.0},{"p":"d","c":"60","x":253.4,"y":29.5},{"p":"d","c":"60","x":265.6,"y":32.7},{"p":"d","c":"60","x":280.9,"y":33.7},{"p":"d","c":"60","x":296.2,"y":31.6},{"p":"d","c":"60","x":306.0,"y":27.3},{"p":"d","c":"60","x":293.1,"y":25.2},{"p":"d","c":"60","x":268.7,"y":23.0},{"p":"d","c":"60","x":253.4,"y":21.4},
{"p":"d","c":"70","x":262.6,"y":24.1},{"p":"d","c":"70","x":267.2,"y":27.8},{"p":"d","c":"70","x":277.9,"y":29.7},{"p":"d","c":"70","x":287.0,"y":29.2},{"p":"d","c":"70","x":289.5,"y":26.7},{"p":"d","c":"70","x":282.4,"y":24.3},{"p":"d","c":"70","x":271.8,"y":22.5},{"p":"d","c":"70","x":264.1,"y":22.5},

{"p":"e","c":"0","x":538.9,"y":2.5},{"p":"e","c":"0","x":531.2,"y":3.2},{"p":"e","c":"0","x":526.6,"y":4.0},{"p":"e","c":"0","x":523.6,"y":5.3},{"p":"e","c":"0","x":514.4,"y":6.4},{"p":"e","c":"0","x":496.1,"y":7.5},{"p":"e","c":"0","x":490.0,"y":8.6},{"p":"e","c":"0","x":468.6,"y":9.9},{"p":"e","c":"0","x":447.2,"y":11.0},{"p":"e","c":"0","x":422.7,"y":12.1},{"p":"e","c":"0","x":398.3,"y":13.2},{"p":"e","c":"0","x":375.4,"y":13.6},{"p":"e","c":"0","x":373.9,"y":14.4},{"p":"e","c":"0","x":334.1,"y":14.6},{"p":"e","c":"0","x":331.1,"y":15.5},{"p":"e","c":"0","x":254.7,"y":13.9},{"p":"e","c":"0","x":251.6,"y":12.8},{"p":"e","c":"0","x":230.2,"y":12.8},{"p":"e","c":"0","x":225.7,"y":13.4},{"p":"e","c":"0","x":218.0,"y":15.5},{"p":"e","c":"0","x":215.6,"y":21.9},{"p":"e","c":"0","x":216.5,"y":32.6},{"p":"e","c":"0","x":224.1,"y":40.1},{"p":"e","c":"0","x":239.4,"y":51.8},{"p":"e","c":"0","x":260.8,"y":63.6},{"p":"e","c":"0","x":282.2,"y":75.3},{"p":"e","c":"0","x":306.6,"y":86.0},{"p":"e","c":"0","x":337.2,"y":97.8},{"p":"e","c":"0","x":367.7,"y":108.5},{"p":"e","c":"0","x":392.2,"y":114.9},{"p":"e","c":"0","x":422.7,"y":120.2},{"p":"e","c":"0","x":453.3,"y":123.4},{"p":"e","c":"0","x":474.7,"y":124.3},{"p":"e","c":"0","x":485.4,"y":123.4},{"p":"e","c":"0","x":493.0,"y":119.2},{"p":"e","c":"0","x":502.2,"y":113.8},{"p":"e","c":"0","x":511.4,"y":109.5},{"p":"e","c":"0","x":520.5,"y":99.9},{"p":"e","c":"0","x":532.7,"y":89.2},{"p":"e","c":"0","x":543.2,"y":76.4},{"p":"e","c":"0","x":551.1,"y":64.7},{"p":"e","c":"0","x":556.6,"y":52.9},{"p":"e","c":"0","x":558.7,"y":43.3},{"p":"e","c":"0","x":558.7,"y":1.6},
{"p":"e","c":"10","x":220.5,"y":21.9},{"p":"e","c":"10","x":222.6,"y":32.6},{"p":"e","c":"10","x":233.3,"y":42.2},{"p":"e","c":"10","x":251.6,"y":49.7},{"p":"e","c":"10","x":276.1,"y":55.0},{"p":"e","c":"10","x":306.6,"y":58.0},{"p":"e","c":"10","x":331.1,"y":59.3},{"p":"e","c":"10","x":346.4,"y":58.8},{"p":"e","c":"10","x":361.6,"y":56.1},{"p":"e","c":"10","x":380.0,"y":51.6},{"p":"e","c":"10","x":393.7,"y":46.5},{"p":"e","c":"10","x":422.7,"y":40.9},{"p":"e","c":"10","x":453.3,"y":34.7},{"p":"e","c":"10","x":483.9,"y":27.8},{"p":"e","c":"10","x":514.4,"y":20.3},{"p":"e","c":"10","x":535.8,"y":13.9},{"p":"e","c":"10","x":546.5,"y":8.9},{"p":"e","c":"10","x":545.0,"y":6.9},{"p":"e","c":"10","x":534.3,"y":6.7},{"p":"e","c":"10","x":499.1,"y":8.9},{"p":"e","c":"10","x":453.3,"y":11.2},{"p":"e","c":"10","x":392.2,"y":13.6},{"p":"e","c":"10","x":331.1,"y":16.4},{"p":"e","c":"10","x":270.0,"y":16.8},{"p":"e","c":"10","x":239.4,"y":16.0},{"p":"e","c":"10","x":224.1,"y":16.6},
{"p":"e","c":"20","x":224.1,"y":21.9},{"p":"e","c":"20","x":226.6,"y":32.6},{"p":"e","c":"20","x":236.4,"y":41.1},{"p":"e","c":"20","x":254.7,"y":47.6},{"p":"e","c":"20","x":276.1,"y":49.5},{"p":"e","c":"20","x":294.4,"y":49.2},{"p":"e","c":"20","x":318.9,"y":47.0},{"p":"e","c":"20","x":361.6,"y":41.7},{"p":"e","c":"20","x":415.7,"y":35.8},{"p":"e","c":"20","x":453.3,"y":29.9},{"p":"e","c":"20","x":483.9,"y":23.5},{"p":"e","c":"20","x":514.4,"y":15.5},{"p":"e","c":"20","x":531.2,"y":10.7},{"p":"e","c":"20","x":531.2,"y":9.1},{"p":"e","c":"20","x":520.5,"y":9.1},{"p":"e","c":"20","x":483.9,"y":11.2},{"p":"e","c":"20","x":422.7,"y":13.9},{"p":"e","c":"20","x":361.6,"y":16.6},{"p":"e","c":"20","x":300.5,"y":17.4},{"p":"e","c":"20","x":254.7,"y":17.4},{"p":"e","c":"20","x":230.2,"y":16.6},
{"p":"e","c":"30","x":227.8,"y":21.9},{"p":"e","c":"30","x":230.2,"y":32.6},{"p":"e","c":"30","x":242.5,"y":39.0},{"p":"e","c":"30","x":260.8,"y":43.3},{"p":"e","c":"30","x":282.2,"y":44.4},{"p":"e","c":"30","x":306.6,"y":42.8},{"p":"e","c":"30","x":346.4,"y":37.4},{"p":"e","c":"30","x":392.2,"y":31.0},{"p":"e","c":"30","x":438.0,"y":25.1},{"p":"e","c":"30","x":477.7,"y":19.2},{"p":"e","c":"30","x":493.0,"y":17.4},{"p":"e","c":"30","x":486.9,"y":16.6},{"p":"e","c":"30","x":453.3,"y":16.8},{"p":"e","c":"30","x":392.2,"y":18.2},{"p":"e","c":"30","x":331.1,"y":19.2},{"p":"e","c":"30","x":270.0,"y":19.2},{"p":"e","c":"30","x":236.4,"y":18.2},
{"p":"e","c":"40","x":233.3,"y":22.4},{"p":"e","c":"40","x":234.8,"y":31.5},{"p":"e","c":"40","x":245.5,"y":37.4},{"p":"e","c":"40","x":263.9,"y":40.1},{"p":"e","c":"40","x":282.2,"y":40.4},{"p":"e","c":"40","x":306.6,"y":37.9},{"p":"e","c":"40","x":337.2,"y":32.1},{"p":"e","c":"40","x":372.3,"y":25.9},{"p":"e","c":"40","x":358.6,"y":24.6},{"p":"e","c":"40","x":315.8,"y":23.5},{"p":"e","c":"40","x":276.1,"y":22.4},{"p":"e","c":"40","x":245.5,"y":21.1},
{"p":"e","c":"50","x":237.9,"y":23.5},{"p":"e","c":"50","x":240.9,"y":31.0},{"p":"e","c":"50","x":253.2,"y":35.8},{"p":"e","c":"50","x":270.0,"y":37.7},{"p":"e","c":"50","x":285.2,"y":37.4},{"p":"e","c":"50","x":299.0,"y":33.7},{"p":"e","c":"50","x":307.2,"y":28.3},{"p":"e","c":"50","x":294.4,"y":26.2},{"p":"e","c":"50","x":270.0,"y":24.6},{"p":"e","c":"50","x":245.5,"y":23.0},
{"p":"e","c":"60","x":248.6,"y":27.3},{"p":"e","c":"60","x":254.7,"y":31.0},{"p":"e","c":"60","x":266.9,"y":32.8},{"p":"e","c":"60","x":279.1,"y":32.6},{"p":"e","c":"60","x":285.2,"y":29.9},{"p":"e","c":"60","x":282.2,"y":27.8},{"p":"e","c":"60","x":270.0,"y":26.7},{"p":"e","c":"60","x":256.2,"y":25.7},

{"p":"f","c":"0","x":542.0,"y":2.5},{"p":"f","c":"0","x":534.4,"y":3.2},{"p":"f","c":"0","x":531.3,"y":4.0},{"p":"f","c":"0","x":526.7,"y":4.8},{"p":"f","c":"0","x":519.1,"y":5.9},{"p":"f","c":"0","x":503.8,"y":7.5},{"p":"f","c":"0","x":488.5,"y":9.1},{"p":"f","c":"0","x":458.0,"y":11.0},{"p":"f","c":"0","x":427.5,"y":12.1},{"p":"f","c":"0","x":409.2,"y":12.5},{"p":"f","c":"0","x":406.1,"y":13.4},{"p":"f","c":"0","x":371.0,"y":13.9},{"p":"f","c":"0","x":369.5,"y":14.6},{"p":"f","c":"0","x":299.2,"y":14.6},{"p":"f","c":"0","x":296.2,"y":13.4},{"p":"f","c":"0","x":287.0,"y":11.8},{"p":"f","c":"0","x":262.6,"y":11.2},{"p":"f","c":"0","x":261.1,"y":9.6},{"p":"f","c":"0","x":241.2,"y":9.9},{"p":"f","c":"0","x":235.1,"y":11.2},{"p":"f","c":"0","x":227.5,"y":14.4},{"p":"f","c":"0","x":226.0,"y":21.9},{"p":"f","c":"0","x":227.5,"y":32.6},{"p":"f","c":"0","x":235.1,"y":43.3},{"p":"f","c":"0","x":247.3,"y":54.0},{"p":"f","c":"0","x":265.6,"y":65.7},{"p":"f","c":"0","x":290.1,"y":77.5},{"p":"f","c":"0","x":317.6,"y":90.3},{"p":"f","c":"0","x":342.0,"y":101.0},{"p":"f","c":"0","x":366.4,"y":110.6},{"p":"f","c":"0","x":396.9,"y":121.3},{"p":"f","c":"0","x":427.5,"y":129.9},{"p":"f","c":"0","x":464.1,"y":139.7},{"p":"f","c":"0","x":488.5,"y":143.7},{"p":"f","c":"0","x":513.0,"y":139.7},{"p":"f","c":"0","x":519.1,"y":134.1},{"p":"f","c":"0","x":528.2,"y":125.6},{"p":"f","c":"0","x":537.4,"y":114.9},{"p":"f","c":"0","x":546.6,"y":104.2},{"p":"f","c":"0","x":552.7,"y":95.7},{"p":"f","c":"0","x":557.2,"y":87.1},{"p":"f","c":"0","x":558.8,"y":80.7},{"p":"f","c":"0","x":558.8,"y":2.7},
{"p":"f","c":"10","x":229.6,"y":27.3},{"p":"f","c":"10","x":232.1,"y":32.6},{"p":"f","c":"10","x":244.3,"y":43.3},{"p":"f","c":"10","x":259.5,"y":48.6},{"p":"f","c":"10","x":280.9,"y":52.9},{"p":"f","c":"10","x":305.3,"y":55.0},{"p":"f","c":"10","x":323.7,"y":56.6},{"p":"f","c":"10","x":342.0,"y":58.8},{"p":"f","c":"10","x":354.2,"y":59.3},{"p":"f","c":"10","x":366.4,"y":57.7},{"p":"f","c":"10","x":375.6,"y":54.0},{"p":"f","c":"10","x":384.7,"y":49.7},{"p":"f","c":"10","x":396.9,"y":46.5},{"p":"f","c":"10","x":433.6,"y":40.3},{"p":"f","c":"10","x":458.0,"y":35.8},{"p":"f","c":"10","x":488.5,"y":28.9},{"p":"f","c":"10","x":519.1,"y":20.3},{"p":"f","c":"10","x":540.5,"y":13.4},{"p":"f","c":"10","x":546.6,"y":8.6},{"p":"f","c":"10","x":543.5,"y":6.4},{"p":"f","c":"10","x":534.4,"y":6.4},{"p":"f","c":"10","x":503.8,"y":8.2},{"p":"f","c":"10","x":458.0,"y":11.4},{"p":"f","c":"10","x":396.9,"y":13.9},{"p":"f","c":"10","x":335.9,"y":15.5},{"p":"f","c":"10","x":290.1,"y":15.0},{"p":"f","c":"10","x":253.4,"y":12.8},{"p":"f","c":"10","x":236.6,"y":14.4},{"p":"f","c":"10","x":229.0,"y":19.8},
{"p":"f","c":"20","x":233.6,"y":21.9},{"p":"f","c":"20","x":236.6,"y":32.6},{"p":"f","c":"20","x":247.3,"y":40.1},{"p":"f","c":"20","x":265.6,"y":45.4},{"p":"f","c":"20","x":287.0,"y":48.3},{"p":"f","c":"20","x":305.3,"y":48.8},{"p":"f","c":"20","x":323.7,"y":47.6},{"p":"f","c":"20","x":351.1,"y":43.3},{"p":"f","c":"20","x":396.9,"y":36.9},{"p":"f","c":"20","x":449.5,"y":29.6},{"p":"f","c":"20","x":488.5,"y":23.0},{"p":"f","c":"20","x":516.0,"y":15.5},{"p":"f","c":"20","x":531.3,"y":10.2},{"p":"f","c":"20","x":529.8,"y":9.1},{"p":"f","c":"20","x":519.1,"y":9.3},{"p":"f","c":"20","x":488.5,"y":11.2},{"p":"f","c":"20","x":427.5,"y":14.2},{"p":"f","c":"20","x":366.4,"y":16.3},{"p":"f","c":"20","x":305.3,"y":16.8},{"p":"f","c":"20","x":259.5,"y":16.0},{"p":"f","c":"20","x":238.2,"y":16.6},
{"p":"f","c":"30","x":238.2,"y":21.9},{"p":"f","c":"30","x":241.2,"y":31.5},{"p":"f","c":"30","x":253.4,"y":37.9},{"p":"f","c":"30","x":271.8,"y":42.2},{"p":"f","c":"30","x":290.1,"y":43.8},{"p":"f","c":"30","x":311.4,"y":42.8},{"p":"f","c":"30","x":351.1,"y":36.9},{"p":"f","c":"30","x":396.9,"y":30.5},{"p":"f","c":"30","x":442.7,"y":23.5},{"p":"f","c":"30","x":476.3,"y":17.6},{"p":"f","c":"30","x":482.4,"y":16.0},{"p":"f","c":"30","x":470.2,"y":15.5},{"p":"f","c":"30","x":427.5,"y":16.6},{"p":"f","c":"30","x":366.4,"y":18.2},{"p":"f","c":"30","x":305.3,"y":18.7},{"p":"f","c":"30","x":259.5,"y":18.2},{"p":"f","c":"30","x":241.2,"y":18.7},
{"p":"f","c":"40","x":242.7,"y":22.4},{"p":"f","c":"40","x":245.8,"y":30.5},{"p":"f","c":"40","x":258.0,"y":36.3},{"p":"f","c":"40","x":274.8,"y":39.0},{"p":"f","c":"40","x":293.1,"y":39.0},{"p":"f","c":"40","x":320.6,"y":34.7},{"p":"f","c":"40","x":351.1,"y":29.9},{"p":"f","c":"40","x":381.1,"y":24.9},{"p":"f","c":"40","x":366.4,"y":23.8},{"p":"f","c":"40","x":320.6,"y":23.0},{"p":"f","c":"40","x":274.8,"y":21.4},{"p":"f","c":"40","x":247.3,"y":20.6},
{"p":"f","c":"50","x":247.3,"y":23.0},{"p":"f","c":"50","x":250.4,"y":30.5},{"p":"f","c":"50","x":262.6,"y":34.7},{"p":"f","c":"50","x":277.9,"y":36.3},{"p":"f","c":"50","x":293.1,"y":35.3},{"p":"f","c":"50","x":311.4,"y":31.5},{"p":"f","c":"50","x":323.7,"y":27.8},{"p":"f","c":"50","x":311.4,"y":26.2},{"p":"f","c":"50","x":280.9,"y":23.8},{"p":"f","c":"50","x":253.4,"y":21.9},
{"p":"f","c":"60","x":250.4,"y":24.0},{"p":"f","c":"60","x":256.5,"y":29.9},{"p":"f","c":"60","x":268.7,"y":33.1},{"p":"f","c":"60","x":284.0,"y":34.2},{"p":"f","c":"60","x":296.2,"y":32.1},{"p":"f","c":"60","x":297.7,"y":28.5},{"p":"f","c":"60","x":280.9,"y":25.7},{"p":"f","c":"60","x":256.5,"y":23.0},
{"p":"f","c":"70","x":267.2,"y":26.7},{"p":"f","c":"70","x":271.8,"y":29.9},{"p":"f","c":"70","x":280.9,"y":31.5},{"p":"f","c":"70","x":288.5,"y":30.5},{"p":"f","c":"70","x":287.0,"y":27.8},{"p":"f","c":"70","x":277.9,"y":26.7},{"p":"f","c":"70","x":270.2,"y":26.0}
]},
"facet":{"field":"p","type":"nominal","title":null,"header":{"labels":false,"title":null,"labelExpr":"''","labelFontSize":0,"labelPadding":0}},
"columns":2,
"spacing":{"row":56,"column":58},
"bounds":"flush",
"resolve":{"axis":{"x":"independent","y":"independent"}},
"spec":{
 "width":436,"height":436,
 "layer":[
  {"transform":[{"filter":"datum.k=='h'"}],"mark":{"type":"rule","color":"black","strokeWidth":1},
   "encoding":{"y":{"field":"y","type":"quantitative","scale":{"domain":[0,140],"nice":false,"zero":false},"axis":{"values":[0,100,140],"format":".1f","offset":8,"tickSize":6,"labelPadding":4,"labelFlush":false,"labelOverlap":false,"title":null}}}},
  {"transform":[{"filter":"datum.c=='0'"}],"mark":{"type":"line","color":"black","strokeWidth":1,"clip":true,"interpolate":"catmull-rom"},
   "encoding":{
    "x":{"field":"x","type":"quantitative","scale":{"domain":[200,600],"nice":false,"zero":false},"axis":{"orient":"top","values":[200,300,400,500,600],"format":".1f","offset":7,"tickSize":7,"labelPadding":3,"labelFlush":false,"labelOverlap":false,"title":null}},
    "y":{"field":"y","type":"quantitative","scale":{"domain":[0,140],"nice":false,"zero":false},"axis":{"values":[0,100,140],"format":".1f","offset":8,"tickSize":6,"labelPadding":4,"labelFlush":false,"labelOverlap":false,"title":null}},
    "detail":{"field":"c"},"order":{"value":null}}},
  {"transform":[{"filter":"datum.c!=null && datum.c!='0'"}],"mark":{"type":"line","color":"black","strokeWidth":1,"clip":true,"interpolate":"cardinal-closed"},
   "encoding":{
    "x":{"field":"x","type":"quantitative","scale":{"domain":[200,600],"nice":false,"zero":false},"axis":{"orient":"top","values":[200,300,400,500,600],"format":".1f","offset":7,"tickSize":7,"labelPadding":3,"labelFlush":false,"labelOverlap":false,"title":null}},
    "y":{"field":"y","type":"quantitative","scale":{"domain":[0,140],"nice":false,"zero":false},"axis":{"values":[0,100,140],"format":".1f","offset":8,"tickSize":6,"labelPadding":4,"labelFlush":false,"labelOverlap":false,"title":null}},
    "detail":{"field":"c"},"order":{"value":null}}},
  {"transform":[{"filter":"datum.k=='l'"}],"mark":{"type":"text","font":"Roboto","fontSize":16,"align":"center","baseline":"middle","color":"black"},
   "encoding":{
    "x":{"field":"x","type":"quantitative","scale":{"domain":[200,600],"nice":false,"zero":false},"axis":{"orient":"top","values":[200,300,400,500,600],"format":".1f","offset":7,"tickSize":7,"labelPadding":3,"labelFlush":false,"labelOverlap":false,"title":null}},
    "y":{"field":"y","type":"quantitative","scale":{"domain":[0,140],"nice":false,"zero":false},"axis":{"values":[0,100,140],"format":".1f","offset":8,"tickSize":6,"labelPadding":4,"labelFlush":false,"labelOverlap":false,"title":null}},
    "text":{"field":"t"}}},
  {"transform":[{"filter":"datum.k=='s'"}],"mark":{"type":"text","font":"Roboto","fontWeight":500,"fontSize":12.5,"align":"left","baseline":"alphabetic","color":"black"},
   "encoding":{
    "x":{"field":"x","type":"quantitative","scale":{"domain":[200,600],"nice":false,"zero":false},"axis":{"orient":"top","values":[200,300,400,500,600],"format":".1f","offset":7,"tickSize":7,"labelPadding":3,"labelFlush":false,"labelOverlap":false,"title":null}},
    "y":{"field":"y","type":"quantitative","scale":{"domain":[0,140],"nice":false,"zero":false},"axis":{"values":[0,100,140],"format":".1f","offset":8,"tickSize":6,"labelPadding":4,"labelFlush":false,"labelOverlap":false,"title":null}},
    "text":{"field":"t"}}},
  {"transform":[{"filter":"datum.k=='t'"}],"mark":{"type":"text","font":"Liberation Serif","fontSize":25,"align":"left","baseline":"alphabetic","color":"black"},
   "encoding":{
    "x":{"field":"x","type":"quantitative","scale":{"domain":[200,600],"nice":false,"zero":false},"axis":{"orient":"top","values":[200,300,400,500,600],"format":".1f","offset":7,"tickSize":7,"labelPadding":3,"labelFlush":false,"labelOverlap":false,"title":null}},
    "y":{"field":"y","type":"quantitative","scale":{"domain":[0,140],"nice":false,"zero":false},"axis":{"values":[0,100,140],"format":".1f","offset":8,"tickSize":6,"labelPadding":4,"labelFlush":false,"labelOverlap":false,"title":null}},
    "text":{"field":"t"}}},
  {"transform":[{"filter":"datum.k=='ti'"}],"mark":{"type":"text","font":"Liberation Serif","fontSize":25,"fontStyle":"italic","align":"left","baseline":"alphabetic","color":"black"},
   "encoding":{
    "x":{"field":"x","type":"quantitative","scale":{"domain":[200,600],"nice":false,"zero":false},"axis":{"orient":"top","values":[200,300,400,500,600],"format":".1f","offset":7,"tickSize":7,"labelPadding":3,"labelFlush":false,"labelOverlap":false,"title":null}},
    "y":{"field":"y","type":"quantitative","scale":{"domain":[0,140],"nice":false,"zero":false},"axis":{"values":[0,100,140],"format":".1f","offset":8,"tickSize":6,"labelPadding":4,"labelFlush":false,"labelOverlap":false,"title":null}},
    "text":{"field":"t"}}},
  {"transform":[{"filter":"datum.k=='tq'"}],"mark":{"type":"text","font":"Liberation Serif","fontSize":14,"fontStyle":"italic","align":"left","baseline":"alphabetic","dy":5,"color":"black"},
   "encoding":{
    "x":{"field":"x","type":"quantitative","scale":{"domain":[200,600],"nice":false,"zero":false},"axis":{"orient":"top","values":[200,300,400,500,600],"format":".1f","offset":7,"tickSize":7,"labelPadding":3,"labelFlush":false,"labelOverlap":false,"title":null}},
    "y":{"field":"y","type":"quantitative","scale":{"domain":[0,140],"nice":false,"zero":false},"axis":{"values":[0,100,140],"format":".1f","offset":8,"tickSize":6,"labelPadding":4,"labelFlush":false,"labelOverlap":false,"title":null}},
    "text":{"field":"t"}}},
  {"transform":[{"filter":"datum.k=='x'"}],"mark":{"type":"text","font":"Roboto","fontWeight":500,"fontSize":12.5,"align":"left","baseline":"middle","color":"black"},
   "encoding":{
    "x":{"field":"x","type":"quantitative","scale":{"domain":[200,600],"nice":false,"zero":false},"axis":{"orient":"top","values":[200,300,400,500,600],"format":".1f","offset":7,"tickSize":7,"labelPadding":3,"labelFlush":false,"labelOverlap":false,"title":null}},
    "y":{"field":"y","type":"quantitative","scale":{"domain":[0,140],"nice":false,"zero":false},"axis":{"values":[0,100,140],"format":".1f","offset":8,"tickSize":6,"labelPadding":4,"labelFlush":false,"labelOverlap":false,"title":null}},
    "text":{"field":"t"}}}
 ]
},
"config":{
 "view":{"stroke":"black","strokeWidth":1},
 "axis":{"domainColor":"black","tickColor":"black","labelColor":"black","labelFont":"Roboto","labelFontWeight":500,"labelFontSize":12,"grid":false,"domainWidth":1,"tickWidth":1},
 "font":"Roboto"
}
}
